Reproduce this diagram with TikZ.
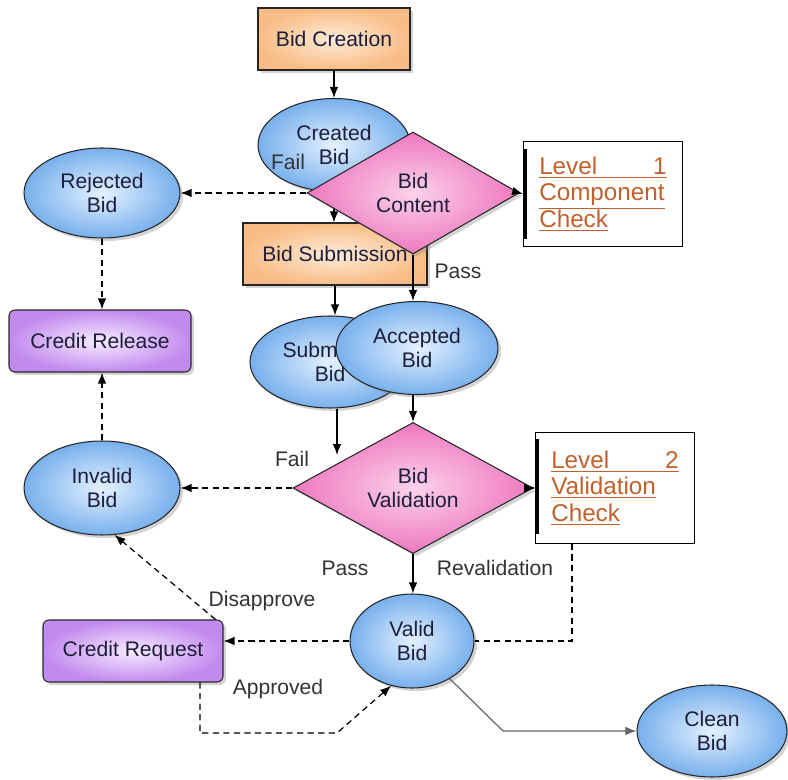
\documentclass[tikz,border=0pt]{standalone}
\usepackage{fontspec}
\setmainfont{Liberation Sans}
\usetikzlibrary{shapes.geometric,shadows,arrows.meta}

\definecolor{orangeout}{HTML}{F8BD86}
\definecolor{orangein}{HTML}{FEEBD8}
\definecolor{blueout}{HTML}{78B0EC}
\definecolor{bluein}{HTML}{E4F1FF}
\definecolor{pinkout}{HTML}{EE78BE}
\definecolor{pinkin}{HTML}{FBD2EA}
\definecolor{purpleout}{HTML}{C28AEE}
\definecolor{purplein}{HTML}{F6ECFF}
\definecolor{textdark}{HTML}{1E1E3C}
\definecolor{linkorange}{HTML}{C2602C}

\begin{document}
\begin{tikzpicture}[>={Latex[length=2.2mm,width=1.7mm]}, x=0.02cm, y=-0.02cm,
  font=\fontsize{12}{14}\selectfont,
  shadowed/.style={drop shadow={opacity=0.35,shadow xshift=0.06cm,shadow yshift=-0.06cm}},
  taskbox/.style={rectangle, draw=black!85, line width=0.6pt, shadowed, inner color=orangein, outer color=orangeout, minimum height=1.24cm, inner sep=0pt, text=textdark},
  creditbox/.style={rectangle, rounded corners=0.12cm, draw=black!85, line width=0.6pt, shadowed, inner color=purplein, outer color=purpleout, minimum height=1.24cm, inner sep=0pt, text=textdark},
  bidstate/.style={ellipse, draw=black!85, line width=0.6pt, shadowed, inner color=bluein, outer color=blueout, inner sep=0pt, align=center, text=textdark},
  check/.style={diamond, draw=black!85, line width=0.6pt, shadowed, inner color=pinkin, outer color=pinkout, inner sep=0pt, align=center, text=textdark},
  levelbox/.style={rectangle, draw=black, line width=0.5pt, fill=white, text width=2.55cm, align=left, minimum width=3.18cm, text=linkorange, font=\fontsize{13.8}{15}\selectfont},
  flow/.style={->, line width=0.7pt},
  dashflow/.style={->, line width=0.7pt, dash pattern=on 3.5pt off 2.5pt},
  lbl/.style={text=black!80}]
\useasboundingbox (0,0) rectangle (788,780);

\node[taskbox, minimum width=3.04cm] (create) at (334,39) {Bid Creation};
\node[bidstate, minimum width=3.04cm, minimum height=1.86cm] (created) at (334,145) {Created\\Bid};
\node[taskbox, minimum width=3.68cm] (submit) at (335,254) {Bid Submission};
\draw[flow] (create) -- (created);
\draw[flow] (created.south) -- (created.south |- submit.north);

\node[check, minimum width=4.24cm, minimum height=2.44cm] (content) at (413,193) {Bid\\Content};
\node[levelbox, minimum height=2.1cm] (lvA) at (603,194) {\underline{\makebox[2.55cm][l]{Level\hfill 1}}\\\underline{Component}\\\underline{Check}};
\draw[line width=1.6pt] ([xshift=0.05cm,yshift=-0.16cm]lvA.north west) -- ([xshift=0.05cm,yshift=0.16cm]lvA.south west);
\draw[flow] (content.east) -- (lvA.west);

\node[bidstate, minimum width=3.12cm, minimum height=1.8cm] (rejected) at (102,193) {Rejected\\Bid};
\node[creditbox, minimum width=3.64cm] (release) at (100,341) {Credit Release};
\draw[dashflow] (content.west) -- (rejected.east);
\draw[dashflow] (rejected.south) -- (rejected.south |- release.north);

\node[bidstate, minimum width=3.2cm, minimum height=1.84cm] (submitted) at (330,362) {Submitted\\Bid};
\node[bidstate, minimum width=3.24cm, minimum height=1.86cm] (accepted) at (417,348) {Accepted\\Bid};
\draw[flow] (content.south) -- (content.south |- accepted.north);
\draw[flow] (submit.south) -- (submit.south |- submitted.north);

\node[check, minimum width=4.8cm, minimum height=2.4cm] (validation) at (413,488) {Bid\\Validation};
\node[levelbox, minimum height=2.22cm] (lvB) at (615,488) {\underline{\makebox[2.55cm][l]{Level\hfill 2}}\\\underline{Validation}\\\underline{Check}};
\draw[line width=1.6pt] ([xshift=0.05cm,yshift=-0.14cm]lvB.north west) -- ([xshift=0.05cm,yshift=0.2cm]lvB.south west);
\draw[flow] (validation.east) -- (lvB.west);
\coordinate (sv) at (337,455);
\draw[flow] (accepted.south -| validation.north) -- (validation.north);
\draw[flow] (sv |- submitted.south) -- (sv);

\node[bidstate, minimum width=3.12cm, minimum height=1.88cm] (invalid) at (102,488) {Invalid\\Bid};
\draw[dashflow] (validation.west) -- (invalid.east);
\draw[dashflow] (invalid.north) -- (invalid.north |- release.south);

\node[bidstate, minimum width=2.48cm, minimum height=1.88cm] (valid) at (412,641) {Valid\\Bid};
\node[creditbox, minimum width=3.6cm] (request) at (133,651) {Credit Request};
\node[bidstate, minimum width=3.0cm, minimum height=1.84cm] (clean) at (712,731) {Clean\\Bid};
\draw[flow] (validation.south) -- (validation.south |- valid.north);

\coordinate (rv) at (572,641);
\draw[dashflow, -] (rv |- lvB.south) -- (rv) -- (valid.east);
\draw[dashflow] (valid.west) -- (valid.west -| request.east);
\draw[dashflow] ([xshift=-0.16cm]request.north east) -- (invalid.-75);
\coordinate (apA) at (200,733);
\coordinate (apB) at (337,733);
\draw[dashflow] (request.south -| apA) -- (apA) -- (apB) -- (valid.-115);
\coordinate (cl) at (503,731);
\draw[flow, draw=black!60] (valid.-45) -- (cl) -- (clean.west);

\node[lbl] (failA) at (288,162) {Fail};
\node[lbl] (passA) at (458,271) {Pass};
\node[lbl] (failB) at (292,459) {Fail};
\node[lbl] (passB) at (345,568) {Pass};
\node[lbl] (reval) at (495,568) {Revalidation};
\node[lbl] (disapp) at (262,601) {Disapprove};
\node[lbl] (appr) at (278,689) {Approved};
\end{tikzpicture}
\end{document}
